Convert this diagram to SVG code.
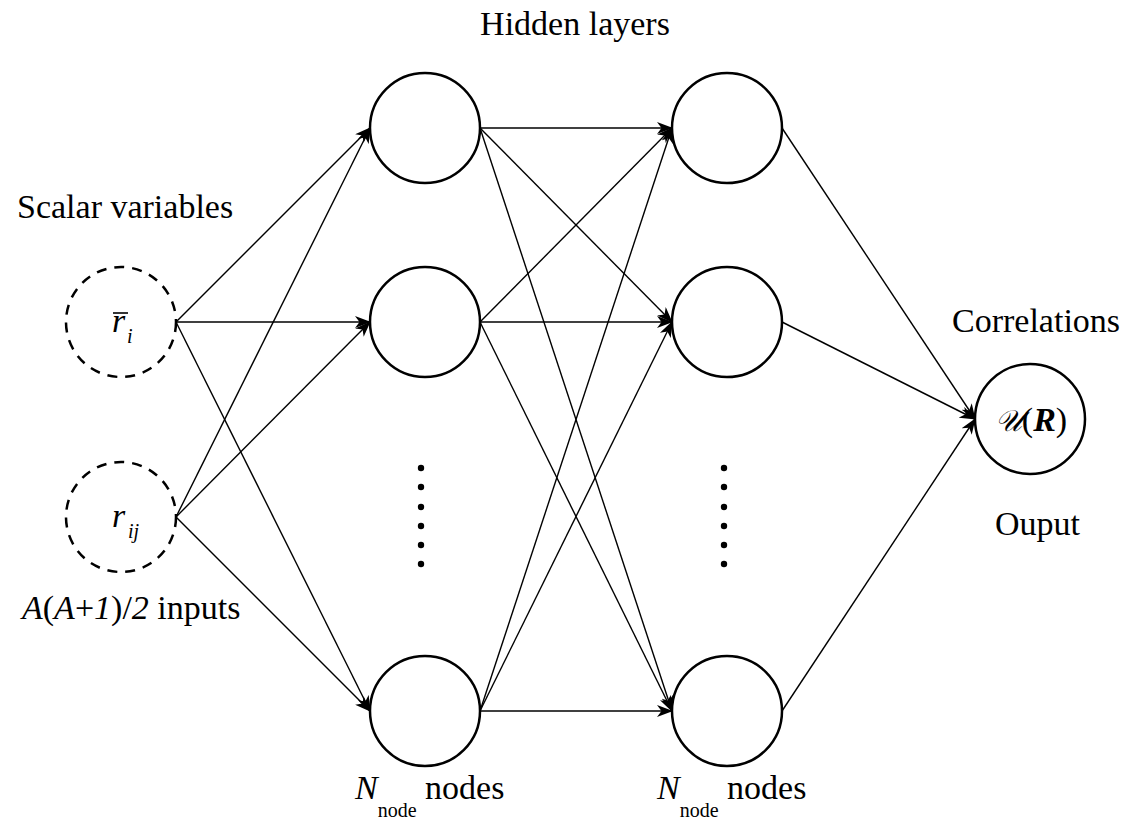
<svg xmlns="http://www.w3.org/2000/svg" width="1121" height="821" viewBox="0 0 1121 821" font-family="Times New Roman">
  <style>
    text { font-size: 34px; fill: #000; }
    .it { font-style: italic; }
    .sub { font-size: 20px; }
    .node { fill: #fff; stroke: #000; stroke-width: 2.5; }
    .input { fill: none; stroke: #000; stroke-width: 2.5; stroke-dasharray: 10 8; }
    .edge { fill: none; stroke: #000; stroke-width: 1.4; marker-end: url(#arrow); }
    .dot { fill: #000; }
  </style>
  <defs>
    <marker id="arrow" markerUnits="userSpaceOnUse" markerWidth="16" markerHeight="12" refX="15" refY="6" orient="auto">
      <path d="M0,0 L16,6 L0,12 L4.5,6 z" fill="#000"/>
    </marker>
  </defs>

  <rect width="1121" height="821" fill="#fff"/>

  <!-- connectors -->
  <g id="connectors">
    <!-- inputs to first hidden layer -->
    <line class="edge" x1="176" y1="322" x2="370" y2="128"/>
    <line class="edge" x1="176" y1="322" x2="370" y2="322"/>
    <line class="edge" x1="176" y1="322" x2="370" y2="711"/>
    <line class="edge" x1="176" y1="517" x2="370" y2="128"/>
    <line class="edge" x1="176" y1="517" x2="370" y2="322"/>
    <line class="edge" x1="176" y1="517" x2="370" y2="711"/>
    <!-- first hidden layer to second hidden layer -->
    <line class="edge" x1="480" y1="128" x2="672" y2="128"/>
    <line class="edge" x1="480" y1="128" x2="672" y2="322"/>
    <line class="edge" x1="480" y1="128" x2="672" y2="711"/>
    <line class="edge" x1="480" y1="322" x2="672" y2="128"/>
    <line class="edge" x1="480" y1="322" x2="672" y2="322"/>
    <line class="edge" x1="480" y1="322" x2="672" y2="711"/>
    <line class="edge" x1="480" y1="711" x2="672" y2="128"/>
    <line class="edge" x1="480" y1="711" x2="672" y2="322"/>
    <line class="edge" x1="480" y1="711" x2="672" y2="711"/>
    <!-- second hidden layer to output -->
    <line class="edge" x1="782" y1="128" x2="975" y2="419"/>
    <line class="edge" x1="782" y1="322" x2="975" y2="419"/>
    <line class="edge" x1="782" y1="711" x2="975" y2="419"/>
  </g>

  <!-- input nodes -->
  <g id="input-rbar">
    <circle class="input" cx="121" cy="322" r="55"/>
    <text class="it" x="112" y="332">r</text>
    <line x1="113" y1="313" x2="128" y2="313" stroke="#000" stroke-width="1.6"/>
    <text class="it sub" x="127" y="343">i</text>
  </g>
  <g id="input-rij">
    <circle class="input" cx="121" cy="517" r="55"/>
    <text class="it" x="112" y="527">r</text>
    <text class="it sub" x="128" y="538">ij</text>
  </g>

  <!-- first hidden layer -->
  <g id="h1-top"><circle class="node" cx="425" cy="128" r="55"/></g>
  <g id="h1-mid"><circle class="node" cx="425" cy="322" r="55"/></g>
  <g id="h1-bot"><circle class="node" cx="425" cy="711" r="55"/></g>
  <g id="h1-dots">
    <circle class="dot" cx="421" cy="468" r="3.2"/>
    <circle class="dot" cx="421" cy="487" r="3.2"/>
    <circle class="dot" cx="421" cy="507" r="3.2"/>
    <circle class="dot" cx="421" cy="526" r="3.2"/>
    <circle class="dot" cx="421" cy="545" r="3.2"/>
    <circle class="dot" cx="421" cy="564" r="3.2"/>
  </g>

  <!-- second hidden layer -->
  <g id="h2-top"><circle class="node" cx="727" cy="128" r="55"/></g>
  <g id="h2-mid"><circle class="node" cx="727" cy="322" r="55"/></g>
  <g id="h2-bot"><circle class="node" cx="727" cy="711" r="55"/></g>
  <g id="h2-dots">
    <circle class="dot" cx="724" cy="468" r="3.2"/>
    <circle class="dot" cx="724" cy="487" r="3.2"/>
    <circle class="dot" cx="724" cy="507" r="3.2"/>
    <circle class="dot" cx="724" cy="526" r="3.2"/>
    <circle class="dot" cx="724" cy="545" r="3.2"/>
    <circle class="dot" cx="724" cy="564" r="3.2"/>
  </g>

  <!-- output node -->
  <g id="output">
    <circle class="node" cx="1030" cy="419" r="55"/>
    <text x="1031" y="431" text-anchor="middle"><tspan class="it" font-size="30">𝒰</tspan>(<tspan class="it" font-weight="bold">R</tspan>)</text>
  </g>

  <!-- labels -->
  <g id="labels">
    <text x="575" y="35" text-anchor="middle">Hidden layers</text>
    <text x="17" y="218">Scalar variables</text>
    <text x="952" y="332">Correlations</text>
    <text x="995" y="535">Ouput</text>
    <text x="22" y="619"><tspan class="it">A</tspan>(<tspan class="it">A</tspan>+<tspan class="it">1</tspan>)/<tspan class="it">2</tspan> inputs</text>
    <text x="355" y="799"><tspan class="it">N</tspan><tspan class="sub" dy="18">node</tspan><tspan dy="-18"> nodes</tspan></text>
    <text x="657" y="799"><tspan class="it">N</tspan><tspan class="sub" dy="18">node</tspan><tspan dy="-18"> nodes</tspan></text>
  </g>
</svg>
